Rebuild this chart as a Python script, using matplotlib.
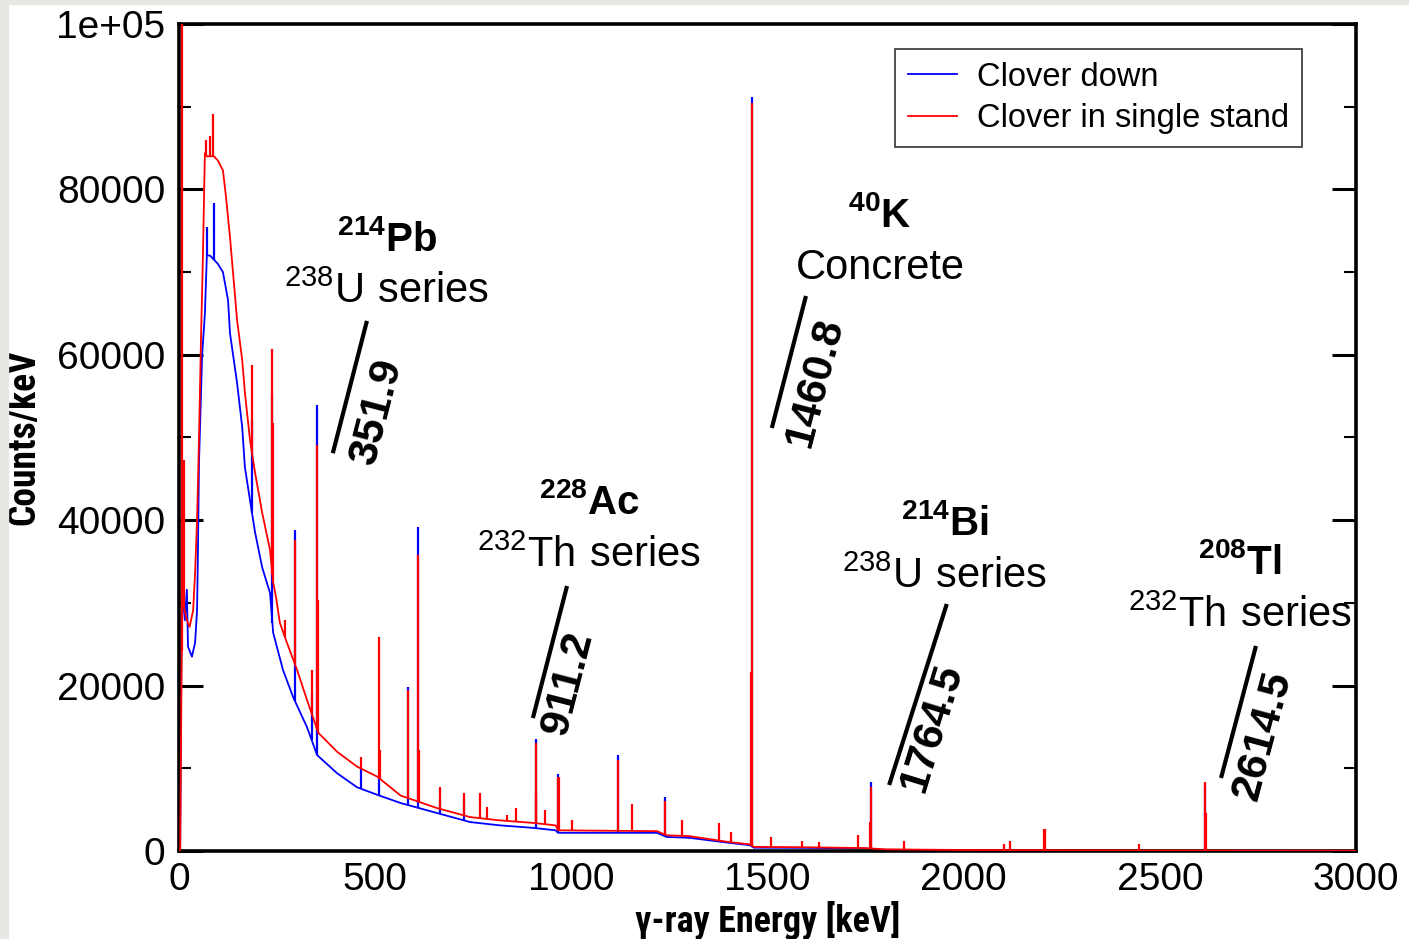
import numpy as np
import matplotlib
matplotlib.use("Agg")
import matplotlib.pyplot as plt
import matplotlib.font_manager as fm
from matplotlib.patches import Rectangle

# ---------------- data ----------------
blue_E = [0, 3, 7, 15, 20, 23, 33, 41, 46, 48, 51, 59, 66, 71, 79, 89, 99, 112, 125, 130,
          148, 161, 168, 181, 194, 212, 232, 240, 265, 291, 326, 352, 403, 454, 505, 565,
          657, 742, 818, 902, 960, 966, 1218, 1243, 1300, 1400, 1455, 1465, 1600, 1750,
          1800, 2000, 2500, 3000]
blue_C = [0, 0, 31900, 27900, 31600, 24700, 23500, 25200, 29100, 35200, 47000, 60000, 65000,
          72000, 72000, 71500, 71000, 70000, 66600, 62600, 56600, 51300, 46400, 42400, 38500,
          34300, 31200, 26400, 21900, 18600, 15000, 11600, 9400, 7700, 6800, 5800, 4600, 3500,
          3100, 2800, 2500, 2200, 2200, 1700, 1600, 1000, 700, 400, 380, 300, 150, 100, 50, 20]

red_E = [0, 3, 8, 15, 20, 27, 36, 41, 46, 51, 56, 61, 66, 71, 79, 89, 99, 112, 120, 130,
         148, 161, 168, 181, 194, 212, 232, 240, 248, 257, 275, 301, 326, 355, 403, 454,
         505, 565, 657, 742, 818, 902, 960, 966, 1218, 1243, 1300, 1400, 1455, 1465, 1600,
         1750, 1800, 2000, 2500, 3000]
red_C = [0, 0, 30300, 29000, 27900, 27100, 29100, 33600, 40000, 50000, 61800, 72000, 84400,
         84000, 84000, 84000, 83500, 82300, 79000, 74200, 64200, 59400, 55400, 49700, 45700,
         40900, 36400, 32500, 30500, 27600, 25200, 21900, 18300, 14300, 12000, 10200, 9000,
         6700, 5200, 4100, 3700, 3400, 3100, 2500, 2400, 1900, 1800, 1100, 800, 500, 450,
         350, 200, 120, 60, 30]

red_pk_E = [7, 12, 69, 79, 87, 186, 238, 240, 270, 295, 338, 352, 354, 463, 511, 513, 583,
            609, 611, 665, 727, 768, 786, 835, 860, 909, 911, 934, 965, 969, 1001, 1120, 1155,
            1238, 1281, 1377, 1408, 1458, 1461, 1509, 1588, 1630, 1730, 1762, 1764.5, 1847,
            2103, 2118, 2204, 2207, 2448, 2614.5, 2617]
red_pk_C = [105000, 47300, 86000, 86500, 89100, 58800, 60700, 51800, 27900, 37600, 21900,
            49100, 30300, 11400, 25900, 12200, 19500, 35800, 12200, 7700, 7000, 7000, 5300,
            4400, 5200, 7000, 13000, 5000, 9000, 9000, 3700, 11000, 5700, 6000, 3700, 3400,
            2300, 21600, 90500, 1700, 1200, 1100, 1900, 3500, 7700, 1200, 800, 1200, 2700,
            2700, 800, 8300, 4600]

blue_pk_E = [72, 89, 186, 238, 295, 338, 352, 463, 511, 583, 609, 665, 727, 911, 967, 1120,
             1238, 1461, 1764.5, 2614.5]
blue_pk_C = [75500, 78300, 52000, 55000, 38800, 19000, 53900, 10000, 9000, 19800, 39200, 6000,
             6000, 13600, 9300, 11600, 6500, 91200, 8300, 8000]

x_ticks = [0, 500, 1000, 1500, 2000, 2500, 3000]
y_ticks = [0, 20000, 40000, 60000, 80000, 100000]
y_tick_labels = ["0", "20000", "40000", "60000", "80000", "1e+05"]
series_labels = ["Clover down", "Clover in single stand"]

# ---------------- fonts ----------------
names = {f.name for f in fm.fontManager.ttflist}
def pick(cands, default="DejaVu Sans"):
    for c in cands:
        if c in names:
            return c
    return default

sans = pick(["Liberation Sans", "Arial", "Noto Sans"])
narrow = pick(["Liberation Sans Narrow", "Arial Narrow", "DejaVu Sans Condensed",
               "Roboto Condensed"], default=None)
if narrow is None:
    narrow = sans
    lab_size = 21
else:
    lab_size = 26

plt.rcParams["font.family"] = [sans, "DejaVu Sans"]

# ---------------- figure ----------------
W, H = 1409, 939
fig = plt.figure(figsize=(W / 100, H / 100), dpi=100)
fig.patch.set_facecolor("white")
fig.patches.append(Rectangle((0, 0), 8 / W, 1, transform=fig.transFigure,
                             color="#e9e7e4", zorder=0))
fig.patches.append(Rectangle((0, 1 - 4 / H), 1, 4 / H, transform=fig.transFigure,
                             color="#e9e7e4", zorder=0))

ax = fig.add_axes([179 / W, 1 - 851 / H, (1356 - 179) / W, (851 - 24) / H])

BLUE = "#0000ff"
RED = "#ff0000"

# blue series
lb, = ax.plot(blue_E, blue_C, color=BLUE, lw=1.3, zorder=2, label=series_labels[0])
bb = np.interp(blue_pk_E, blue_E, blue_C)
ax.vlines(blue_pk_E, bb, blue_pk_C, color=BLUE, lw=1.6, zorder=2)
# red series
lr, = ax.plot(red_E, red_C, color=RED, lw=1.3, zorder=3, label=series_labels[1])
rb = np.interp(red_pk_E, red_E, red_C)
ax.vlines(red_pk_E, rb, red_pk_C, color=RED, lw=1.6, zorder=3)

ax.set_xlim(0, 3000)
ax.set_ylim(0, 100000)

ax.set_xticks(x_ticks)
ax.set_xticklabels([str(v) for v in x_ticks])
ax.set_yticks(y_ticks)
ax.set_yticklabels(y_tick_labels)
ax.set_yticks(np.arange(10000, 100000, 20000), minor=True)

ax.tick_params(axis="x", length=0, pad=8, labelsize=28)
ax.tick_params(axis="y", which="major", direction="in", left=True, right=True,
               length=17, width=2.2, pad=10, labelsize=28)
ax.tick_params(axis="y", which="minor", direction="in", left=True, right=True,
               length=8.5, width=1.5)
for s in ax.spines.values():
    s.set_linewidth(2.6)

ax.set_xlabel("\u03b3-ray Energy [keV]", fontsize=lab_size, fontweight="bold",
              family=[narrow, "DejaVu Sans"])
ax.set_ylabel("Counts/keV", fontsize=lab_size + 1, fontweight="bold",
              family=[narrow, "DejaVu Sans"])
ax.xaxis.set_label_coords(0.5, -0.061)
ax.yaxis.set_label_coords(-0.116, 0.5)

leg = ax.legend(handles=[lb, lr], loc="upper right", bbox_to_anchor=(0.954, 0.970),
                borderaxespad=0, fontsize=23.5, frameon=True, fancybox=False,
                handlelength=1.5, handletextpad=0.6, borderpad=0.4, labelspacing=0.32)
leg.get_frame().set_edgecolor("black")
leg.get_frame().set_linewidth(1.2)
for h in leg.get_lines():
    h.set_linewidth(1.3)

# ---------------- annotations ----------------
annots = [
    # (title, subtitle, energy label, title pos, sub pos, line p0, line p1, label pos, angle)
    (r"$\mathregular{^{214}Pb}$", r"$\mathregular{^{238}U\ series}$", "351.9",
     (530, 73900), (530, 67600), (392, 48100), (479, 64100), (505, 53100), 75.5),
    (r"$\mathregular{^{40}K}$", "Concrete", "1460.8",
     (1787, 76900), (1787, 70500), (1511, 51150), (1598, 67110), (1621, 56590), 75.5),
    (r"$\mathregular{^{228}Ac}$", r"$\mathregular{^{232}Th\ series}$", "911.2",
     (1045, 42080), (1045, 35670), (902, 16080), (989, 32040), (991, 20310), 75.5),
    (r"$\mathregular{^{214}Bi}$", r"$\mathregular{^{238}U\ series}$", "1764.5",
     (1952, 39660), (1952, 33130), (1810, 7980), (1957, 29870), (1919, 14870), 73),
    (r"$\mathregular{^{208}Tl}$", r"$\mathregular{^{232}Th\ series}$", "2614.5",
     (2704, 34825), (2704, 28416), (2656, 8830), (2745, 24790), (2763, 13906), 75),
]
for title, sub, lab, tp, sp, p0, p1, lp, ang in annots:
    ax.text(tp[0], tp[1], title, fontsize=29, fontweight="bold", ha="center", va="center",
            zorder=5)
    ax.text(sp[0], sp[1], sub, fontsize=30, ha="center", va="center", zorder=5)
    ax.plot([p0[0], p1[0]], [p0[1], p1[1]], color="black", lw=3, zorder=5,
            solid_capstyle="butt")
    ax.text(lp[0], lp[1], lab, fontsize=31, fontweight="bold", rotation=ang,
            rotation_mode="anchor", ha="center", va="center", zorder=5)

fig.savefig("out.png", dpi=100)
